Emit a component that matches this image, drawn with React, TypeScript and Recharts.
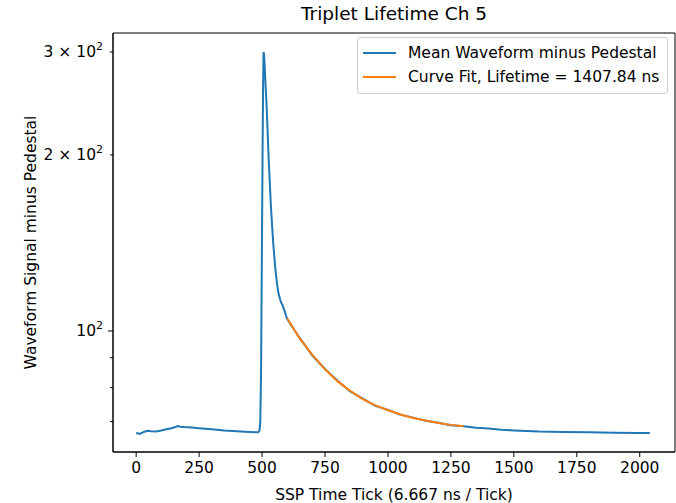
import React from 'react';
import { LineChart, Line, XAxis, YAxis, Legend, ReferenceArea } from 'recharts';

// SSP time ticks and mean waveform (pedestal subtracted)
const waveTicks = [
  0, 15, 30, 45, 60, 80, 100, 120, 140, 155, 165, 175, 190, 220, 250, 300, 350, 400, 450, 485,
  490, 493, 496, 499, 502, 504, 506, 508, 511, 514, 518, 522, 526, 530, 535, 540, 545, 550, 555,
  560, 565, 570, 575, 580, 585, 590, 595, 600, 650, 700, 750, 800, 850, 900, 950, 1000, 1050,
  1100, 1150, 1200, 1250, 1300, 1350, 1400, 1450, 1500, 1600, 1700, 1800, 1900, 2000, 2040,
];
const waveValues = [
  66.9, 66.7, 67.2, 67.5, 67.4, 67.3, 67.6, 67.9, 68.2, 68.5, 68.8, 68.6, 68.5, 68.4, 68.2, 67.9, 67.6, 67.4, 67.2, 67.1,
  67.6, 70, 85, 130, 200, 260, 300, 296, 280, 262, 243, 220, 198, 182, 164, 151, 140, 132, 125,
  120, 116, 114, 112, 111, 109.5, 108, 106.3, 104.8, 97.2, 90.8, 86.1, 82.2, 78.8, 76.6, 74.5, 73.3, 71.9,
  71.1, 70.2, 69.7, 69.0, 68.7, 68.3, 68.1, 67.8, 67.6, 67.3, 67.2, 67.1, 67.0, 66.9, 66.9,
];

// exponential fit over the decay
const fitTicks = [600, 650, 700, 750, 800, 850, 900, 950, 1000, 1050, 1100, 1150, 1200, 1250, 1300];
const fitValues = [105.0, 97.0, 91.0, 86.0, 82.0, 79.0, 76.5, 74.6, 73.2, 72.0, 71.0, 70.3, 69.6, 69.1, 68.7];

const xTicks = [0, 250, 500, 750, 1000, 1250, 1500, 1750, 2000];
const yTicks = [70, 80, 90, 100, 200, 300];
const yLabels: Record<number, [string, string]> = {
  100: ['10', '2'],
  200: ['2 × 10', '2'],
  300: ['3 × 10', '2'],
};

const waveData = waveTicks.map((t, i) => ({ t, v: waveValues[i] }));
const fitData = fitTicks.map((t, i) => ({ t, v: fitValues[i] }));

const FONT = 'DejaVu Sans';
const FS = 15.5;
const X_DOMAIN: [number, number] = [-92, 2140];
const Y_DOMAIN: [number, number] = [62.1, 323.2];

const YTick = (props: any) => {
  const { x, y, payload } = props;
  const lbl = yLabels[payload.value];
  const len = payload.value === 100 ? 5 : 3;
  return (
    <g>
      <line x1={x} x2={x - len} y1={y} y2={y} stroke="#000" strokeWidth={1} />
      {lbl && (
        <text x={x - 10} y={y + 5.5} textAnchor="end" fontSize={FS} fontFamily={FONT} fill="#000">
          {lbl[0]}
          <tspan dy={-7} fontSize={11}>{lbl[1]}</tspan>
        </text>
      )}
    </g>
  );
};

const LegendBox = () => {
  const items = [
    { color: '#1f77b4', label: 'Mean Waveform minus Pedestal' },
    { color: '#ff7f0e', label: 'Curve Fit, Lifetime = 1407.84 ns' },
  ];
  return (
    <div
      style={{
        width: 309,
        height: 50,
        border: '1px solid #d0d0d0',
        borderRadius: 3,
        background: 'rgba(255,255,255,0.8)',
        fontFamily: FONT,
        fontSize: FS,
        color: '#000',
        boxSizing: 'content-box',
        paddingTop: 3,
        paddingBottom: 2,
      }}
    >
      {items.map((it) => (
        <div key={it.label} style={{ display: 'flex', alignItems: 'center', height: 24 }}>
          <svg width={50} height={24}>
            <line x1={5} x2={38} y1={12} y2={12} stroke={it.color} strokeWidth={2} />
          </svg>
          <span style={{ whiteSpace: 'nowrap' }}>{it.label}</span>
        </div>
      ))}
    </div>
  );
};

export default function App() {
  return (
    <div style={{ position: 'absolute', left: 0, top: 0, width: 676, height: 503, background: '#fff' }}>
      <div
        style={{
          position: 'absolute',
          left: 113,
          width: 562,
          top: 3,
          textAlign: 'center',
          fontFamily: FONT,
          fontSize: 18.5,
          color: '#000',
        }}
      >
        Triplet Lifetime Ch 5
      </div>
      <LineChart
        width={676}
        height={503}
        margin={{ top: 33, right: 1, left: 0, bottom: 0 }}
        style={{ position: 'absolute', left: 0, top: 0 }}
      >
        <XAxis
          type="number"
          dataKey="t"
          domain={X_DOMAIN}
          allowDataOverflow
          ticks={xTicks}
          height={51}
          tickSize={5}
          tickMargin={5}
          stroke="#000"
          tick={{ fontSize: FS, fontFamily: FONT, fill: '#000' }}
          label={{
            value: 'SSP Time Tick (6.667 ns / Tick)',
            position: 'insideBottom',
            offset: 3,
            style: { fontSize: FS, fontFamily: FONT, fill: '#000' },
          }}
        />
        <YAxis
          type="number"
          dataKey="v"
          scale="log"
          domain={Y_DOMAIN}
          allowDataOverflow
          ticks={yTicks}
          width={113}
          tickSize={0}
          tickMargin={0}
          tickLine={false}
          stroke="#000"
          tick={<YTick />}
          label={{
            value: 'Waveform Signal minus Pedestal',
            angle: -90,
            position: 'insideLeft',
            offset: 30,
            style: { textAnchor: 'middle', fontSize: FS, fontFamily: FONT, fill: '#000' },
          }}
        />
        <ReferenceArea
          x1={X_DOMAIN[0]}
          x2={X_DOMAIN[1]}
          y1={Y_DOMAIN[0]}
          y2={Y_DOMAIN[1]}
          fill="none"
          stroke="#000"
          strokeWidth={1}
          ifOverflow="extendDomain"
        />
        <Line
          data={waveData}
          dataKey="v"
          type="linear"
          stroke="#1f77b4"
          strokeWidth={2}
          dot={false}
          isAnimationActive={false}
        />
        <Line
          data={fitData}
          dataKey="v"
          type="linear"
          stroke="#ff7f0e"
          strokeWidth={2}
          dot={false}
          isAnimationActive={false}
        />
        <Legend
          layout="vertical"
          align="center"
          verticalAlign="middle"
          wrapperStyle={{ top: 37, left: 357, width: 'auto' }}
          content={<LegendBox />}
        />
      </LineChart>
    </div>
  );
}
